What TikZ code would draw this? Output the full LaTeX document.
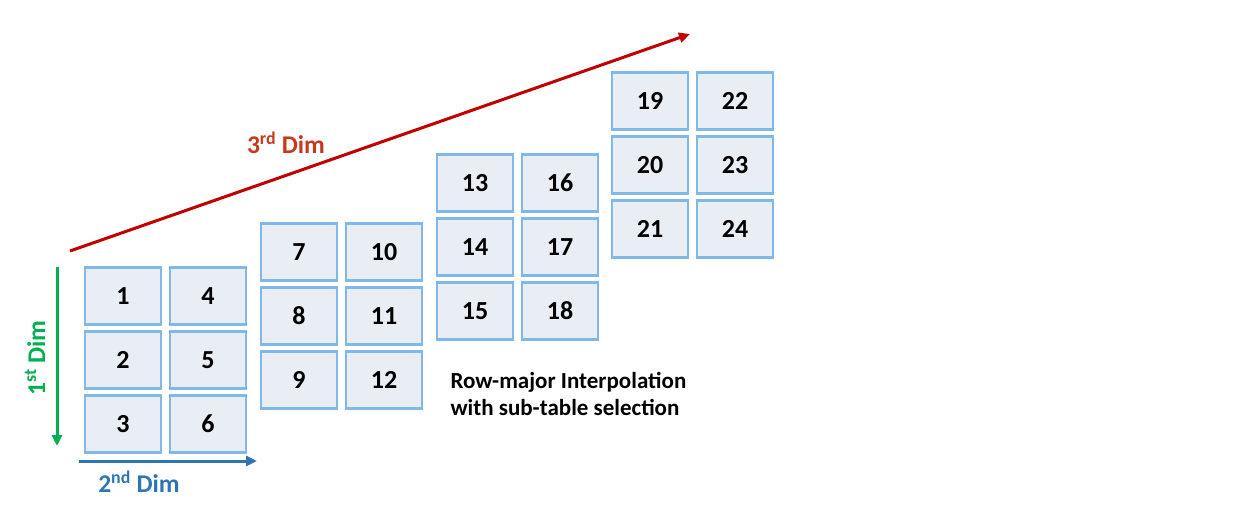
\documentclass[tikz,border=0pt]{standalone}
\usepackage{fontspec}
\setmainfont{Carlito}
\usetikzlibrary{arrows.meta}

\definecolor{boxfill}{HTML}{E9EEF5}
\definecolor{boxline}{HTML}{80B8E8}
\definecolor{dimred}{HTML}{C00000}
\definecolor{dimlab}{HTML}{C8381C}
\definecolor{dimgreen}{HTML}{00B050}
\definecolor{dimblue}{HTML}{2E75B6}

\tikzset{
	cell/.style={draw=boxline, fill=boxfill, line width=2.2pt, minimum width=76pt, minimum height=57pt,
		inner sep=0pt, font=\fontsize{26}{30}\selectfont\bfseries},
	dimarrow/.style={line width=3pt, -{Triangle[length=11pt,width=10pt]}},
	dimlabel/.style={font=\fontsize{25.5}{30}\selectfont\bfseries}
}

\begin{document}
\begin{tikzpicture}[x=1pt,y=-1pt]

	% Rahmen
	\useasboundingbox (0,0) rectangle (1236,513);

	% Teiltabelle 1
	\node[cell] (b1) at (123,296) {1};
	\node[cell] (b2) at (123,360) {2};
	\node[cell] (b3) at (123,424) {3};
	\node[cell] (b4) at (208,296) {4};
	\node[cell] (b5) at (208,360) {5};
	\node[cell] (b6) at (208,424) {6};

	% Teiltabelle 2
	\node[cell] (b7) at (299,252) {7};
	\node[cell] (b8) at (299,316) {8};
	\node[cell] (b9) at (299,380) {9};
	\node[cell] (b10) at (384,252) {10};
	\node[cell] (b11) at (384,316) {11};
	\node[cell] (b12) at (384,380) {12};

	% Teiltabelle 3
	\node[cell] (b13) at (475,183) {13};
	\node[cell] (b14) at (475,247) {14};
	\node[cell] (b15) at (475,311) {15};
	\node[cell] (b16) at (560,183) {16};
	\node[cell] (b17) at (560,247) {17};
	\node[cell] (b18) at (560,311) {18};

	% Teiltabelle 4
	\node[cell] (b19) at (650,101) {19};
	\node[cell] (b20) at (650,165) {20};
	\node[cell] (b21) at (650,229) {21};
	\node[cell] (b22) at (735,101) {22};
	\node[cell] (b23) at (735,165) {23};
	\node[cell] (b24) at (735,229) {24};

	% Achsenpunkte
	\coordinate (D1a) at (57,267);
	\coordinate (D1b) at (57,446);
	\coordinate (D2a) at (79,461);
	\coordinate (D2b) at (257,461);
	\coordinate (D3a) at (70,251);
	\coordinate (D3b) at (690,34);

	% Dimensionspfeile
	\draw[dimarrow,dimgreen] (D1a) -- (D1b);
	\draw[dimarrow,dimblue] (D2a) -- (D2b);
	\draw[dimarrow,dimred] (D3a) -- (D3b);

	% Beschriftungen
	\node[dimlabel,dimgreen,rotate=90] (l1) at (35,358) {1\textsuperscript{st} Dim};
	\node[dimlabel,dimblue] (l2) at (139,482) {2\textsuperscript{nd} Dim};
	\node[dimlabel,dimlab] (l3) at (286,143) {3\textsuperscript{rd} Dim};

	% Erklaerung
	\node[font=\fontsize{23}{27}\selectfont\bfseries, align=left, anchor=west] (note) at (447,394)
		{Row-major Interpolation\\with sub-table selection};

\end{tikzpicture}
\end{document}
